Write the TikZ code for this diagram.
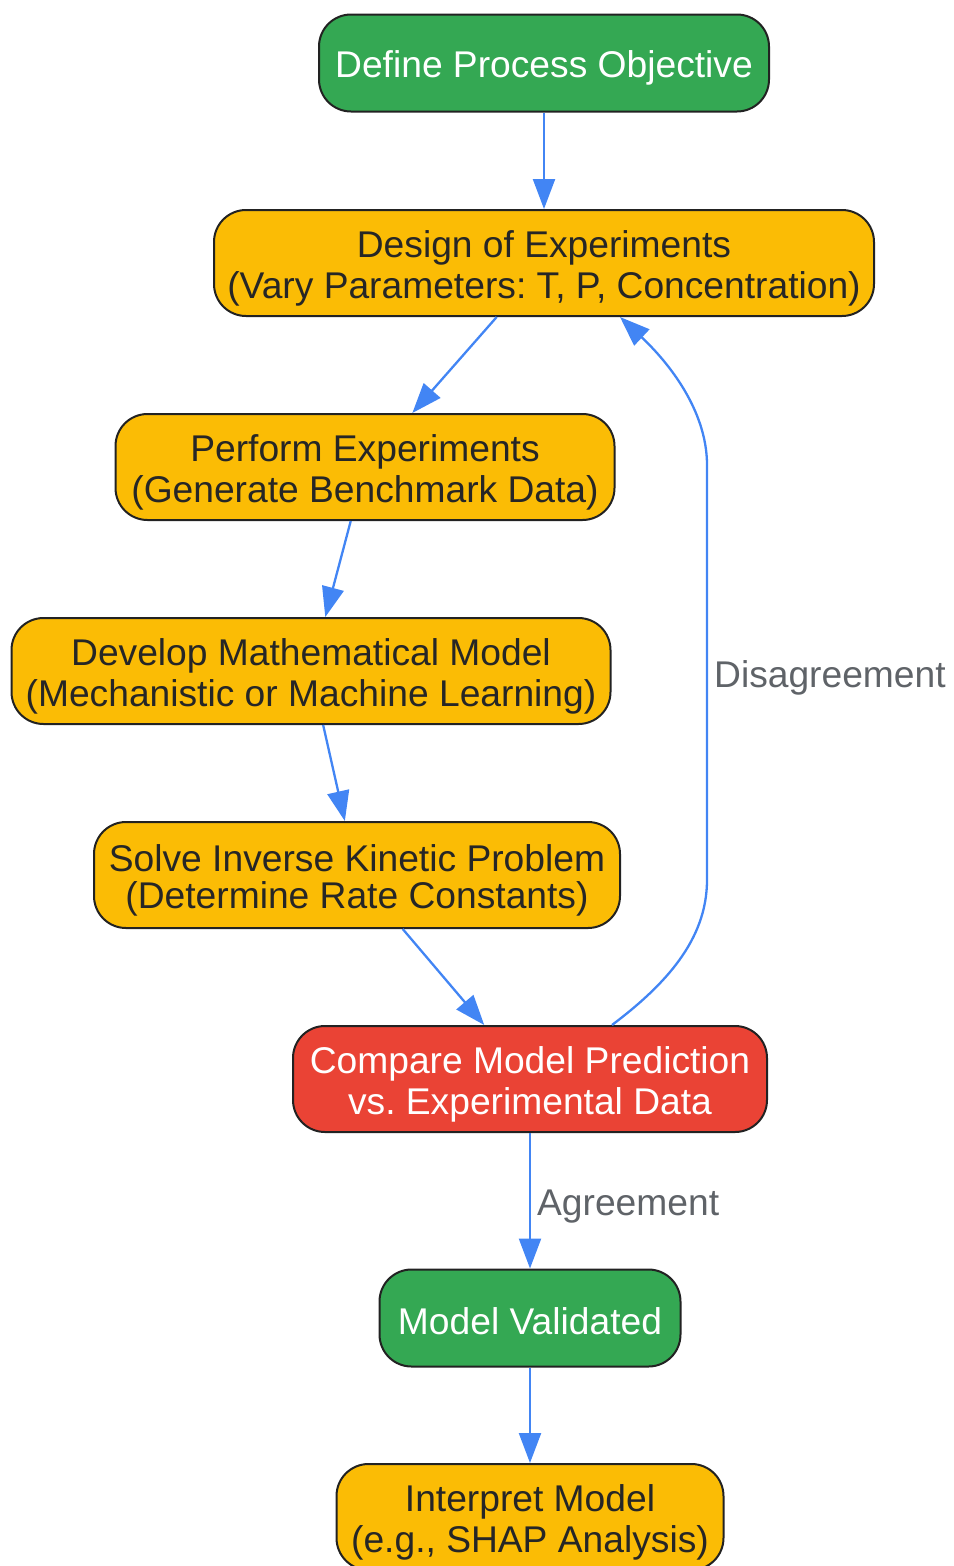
\documentclass[tikz,border=0pt]{standalone}
\usepackage{fontspec}
\setmainfont{Liberation Sans}
\usetikzlibrary{arrows.meta}
\frenchspacing
\definecolor{gfill}{HTML}{34A853}
\definecolor{yfill}{HTML}{FBBC05}
\definecolor{rfill}{HTML}{EA4335}
\definecolor{arrowc}{HTML}{4285F4}
\definecolor{borderc}{HTML}{222222}
\definecolor{darktext}{HTML}{262626}
\definecolor{lblc}{HTML}{5F6368}
\newcommand{\ls}{\rule[-5pt]{0pt}{42pt}}
\tikzset{
  box/.style={draw=borderc, line width=2pt, rounded corners=32pt, inner sep=0pt,
    align=center, font=\fontsize{37.2}{42}\selectfont},
  greenbox/.style={box, fill=gfill, text=white},
  yellowbox/.style={box, fill=yfill, text=darktext},
  redbox/.style={box, fill=rfill, text=white},
  arr/.style={draw=arrowc, line width=2.3pt, -{Triangle[length=30pt,width=22pt]}},
  lbl/.style={text=lblc, font=\fontsize{37.2}{42}\selectfont, inner sep=6pt}
}
\begin{document}
\begin{tikzpicture}[x=1pt,y=-1pt]
\useasboundingbox (0,0) rectangle (953,1566);
\node[greenbox, minimum width=450pt, minimum height=97pt] (n1) at (544,63) {\ls Define Process Objective};
\node[yellowbox, minimum width=660pt, minimum height=106pt] (n2) at (544,263) {\ls Design of Experiments\\[-5pt]\ls (Vary Parameters: T, P, Concentration)};
\node[yellowbox, minimum width=499pt, minimum height=106pt] (n3) at (365,467) {\ls Perform Experiments\\[-5pt]\ls (Generate Benchmark Data)};
\node[yellowbox, minimum width=599pt, minimum height=106pt] (n4) at (311,671) {\ls Develop Mathematical Model\\[-5pt]\ls (Mechanistic or Machine Learning)};
\node[yellowbox, minimum width=526pt, minimum height=106pt] (n5) at (357,875) {\ls Solve Inverse Kinetic Problem\\[-5pt]\ls (Determine Rate Constants)};
\node[redbox, minimum width=474pt, minimum height=106pt] (n6) at (530,1079) {\ls Compare Model Prediction\\[-5pt]\ls vs. Experimental Data};
\node[greenbox, minimum width=301pt, minimum height=97pt] (n7) at (530,1318) {\ls Model Validated};
\node[yellowbox, minimum width=387pt, minimum height=106pt] (n8) at (530,1517) {\ls Interpret Model\\[-5pt]\ls (e.g., SHAP Analysis)};

\coordinate (c1) at (707,880);
\coordinate (c2) at (707,465);

\draw[arr] (n1) -- (n2);
\draw[arr] (n2) -- (n3);
\draw[arr] (n3) -- (n4);
\draw[arr] (n4) -- (n5);
\draw[arr] (n5) -- (n6);
\draw[arr] (n6) -- node[lbl, anchor=west] {\ls Agreement} (n7);
\draw[arr] (n7) -- (n8);
\draw[arr] ([xshift=82pt]n6.north) .. controls (665,985) and (707,940) .. (c1)
  -- node[lbl, anchor=west] {\ls Disagreement} (c2)
  .. controls (707,410) and (668,362) .. ([xshift=76pt]n2.south);
\end{tikzpicture}
\end{document}
